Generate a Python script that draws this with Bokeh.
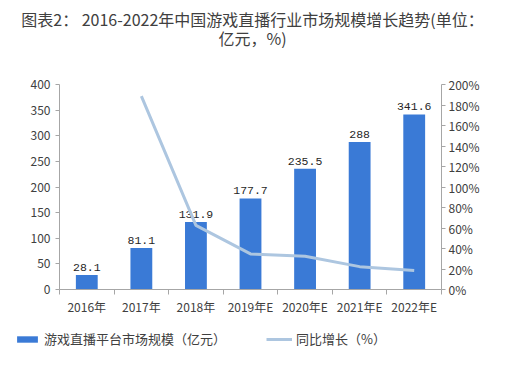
from bokeh.plotting import figure
from bokeh.layouts import column
from bokeh.models import (Range1d, LinearAxis, FixedTicker, Label, Legend, LegendItem,
                          ColumnDataSource)
from bokeh.core.properties import value
from bokeh.embed import file_html
from bokeh.resources import INLINE

categories = ["2016年", "2017年", "2018年", "2019年E", "2020年E", "2021年E", "2022年E"]
market_size = [28.1, 81.1, 131.9, 177.7, 235.5, 288.0, 341.6]
size_labels = ["28.1", "81.1", "131.9", "177.7", "235.5", "288", "341.6"]
growth_years = ["2017年", "2018年", "2019年E", "2020年E", "2021年E", "2022年E"]
growth_pct = [188.6, 62.6, 34.7, 32.5, 22.3, 18.6]
left_ticks = [0, 50, 100, 150, 200, 250, 300, 350, 400]
right_ticks = [0, 20, 40, 60, 80, 100, 120, 140, 160, 180, 200]

title_line1 = "图表2： 2016-2022年中国游戏直播行业市场规模增长趋势(单位："
title_line2 = "亿元，%)"
legend_bar = "游戏直播平台市场规模（亿元）"
legend_line = "同比增长（%）"

BAR = "#3a7ad6"
LINE = "#adc6e0"
AXIS = "#a6a6a6"
TXT = "#404040"
CJK = "Noto Sans CJK SC"


def no_align(fig):
    try:
        fig.frame_align = False
    except Exception:
        pass


xpos = {c: i + 0.5 for i, c in enumerate(categories)}

# title strip
tt = figure(width=503, height=48, output_backend="svg", toolbar_location=None,
            x_range=Range1d(0, 1), y_range=Range1d(0, 1),
            x_axis_location=None, y_axis_location=None, outline_line_color=None,
            min_border=0, background_fill_color="white", border_fill_color="white")
tt.grid.visible = False
no_align(tt)
for txt, y in [(title_line1, 30), (title_line2, 11)]:
    tt.add_layout(Label(x=252, y=y, x_units="screen", y_units="screen", text=txt,
                        text_align="center", text_baseline="middle", text_font=CJK,
                        text_font_size="16px", text_color="#404040"))

# main chart
p = figure(width=503, height=271, output_backend="svg", toolbar_location=None,
           x_range=Range1d(0, 7), y_range=Range1d(0, 400),
           min_border_left=59, min_border_right=62, min_border_top=36, min_border_bottom=30,
           background_fill_color="white", border_fill_color="white", outline_line_color=None)
p.grid.visible = False
no_align(p)
p.extra_y_ranges = {"pct": Range1d(0, 200)}

bar_src = ColumnDataSource(dict(x=[xpos[c] for c in categories], top=market_size, lab=size_labels))
p.vbar(x="x", top="top", width=0.4, source=bar_src, fill_color=BAR, line_color=None)
p.text(x="x", y="top", text="lab", source=bar_src, text_align="center", text_baseline="bottom",
       y_offset=-4, text_font=value("Liberation Mono"), text_font_size="11.5px", text_color="#262626")

line_src = ColumnDataSource(dict(x=[xpos[c] for c in growth_years], y=growth_pct))
p.line(x="x", y="y", source=line_src, y_range_name="pct", line_color=LINE, line_width=3)

xa = p.xaxis[0]
xa.ticker = FixedTicker(ticks=[xpos[c] for c in categories], minor_ticks=list(range(8)))
xa.major_label_overrides = {xpos[c]: c for c in categories}
xa.major_tick_line_color = None
xa.major_tick_out = 0
xa.major_tick_in = 0
xa.minor_tick_line_color = AXIS
xa.minor_tick_out = 5
xa.minor_tick_in = 0
xa.axis_line_color = AXIS
xa.major_label_text_font = CJK
xa.major_label_text_font_size = "12px"
xa.major_label_text_color = TXT
xa.major_label_standoff = 3

ya = p.yaxis[0]
ya.ticker = FixedTicker(ticks=left_ticks)
ya.axis_line_color = AXIS
ya.major_tick_line_color = AXIS
ya.major_tick_out = 4
ya.major_tick_in = 0
ya.minor_tick_line_color = None
ya.major_label_text_font = CJK
ya.major_label_text_font_size = "12px"
ya.major_label_text_color = TXT
ya.major_label_standoff = 5

ra = LinearAxis(y_range_name="pct", ticker=FixedTicker(ticks=right_ticks))
ra.major_label_overrides = {t: f"{t}%" for t in right_ticks}
ra.axis_line_color = AXIS
ra.major_tick_line_color = AXIS
ra.major_tick_out = 4
ra.major_tick_in = 0
ra.minor_tick_line_color = None
ra.major_label_text_font = CJK
ra.major_label_text_font_size = "12px"
ra.major_label_text_color = TXT
ra.major_label_standoff = 3
p.add_layout(ra, "right")

# legend strip
lg = figure(width=503, height=39, output_backend="svg", toolbar_location=None,
            x_range=Range1d(0, 7), y_range=Range1d(1000, 1001),
            x_axis_location=None, y_axis_location=None, outline_line_color=None,
            min_border=0, background_fill_color="white", border_fill_color="white")
lg.grid.visible = False
no_align(lg)
r_bar = lg.vbar(x="x", top="top", width=0.4, source=bar_src, fill_color=BAR, line_color=None)
r_line = lg.line(x="x", y="y", source=line_src, line_color=LINE, line_width=3)
legend = Legend(items=[LegendItem(label=legend_bar, renderers=[r_bar]),
                       LegendItem(label=legend_line, renderers=[r_line])],
                orientation="horizontal", location=(14, 10),
                label_text_font=CJK, label_text_font_size="13px", label_text_color=TXT,
                glyph_width=26, glyph_height=8, spacing=40, background_fill_alpha=0,
                border_line_color=None, label_standoff=4, padding=0, margin=0)
lg.add_layout(legend, "center")

layout = column(tt, p, lg, spacing=0)
open("out.html", "w").write(file_html(layout, INLINE))
